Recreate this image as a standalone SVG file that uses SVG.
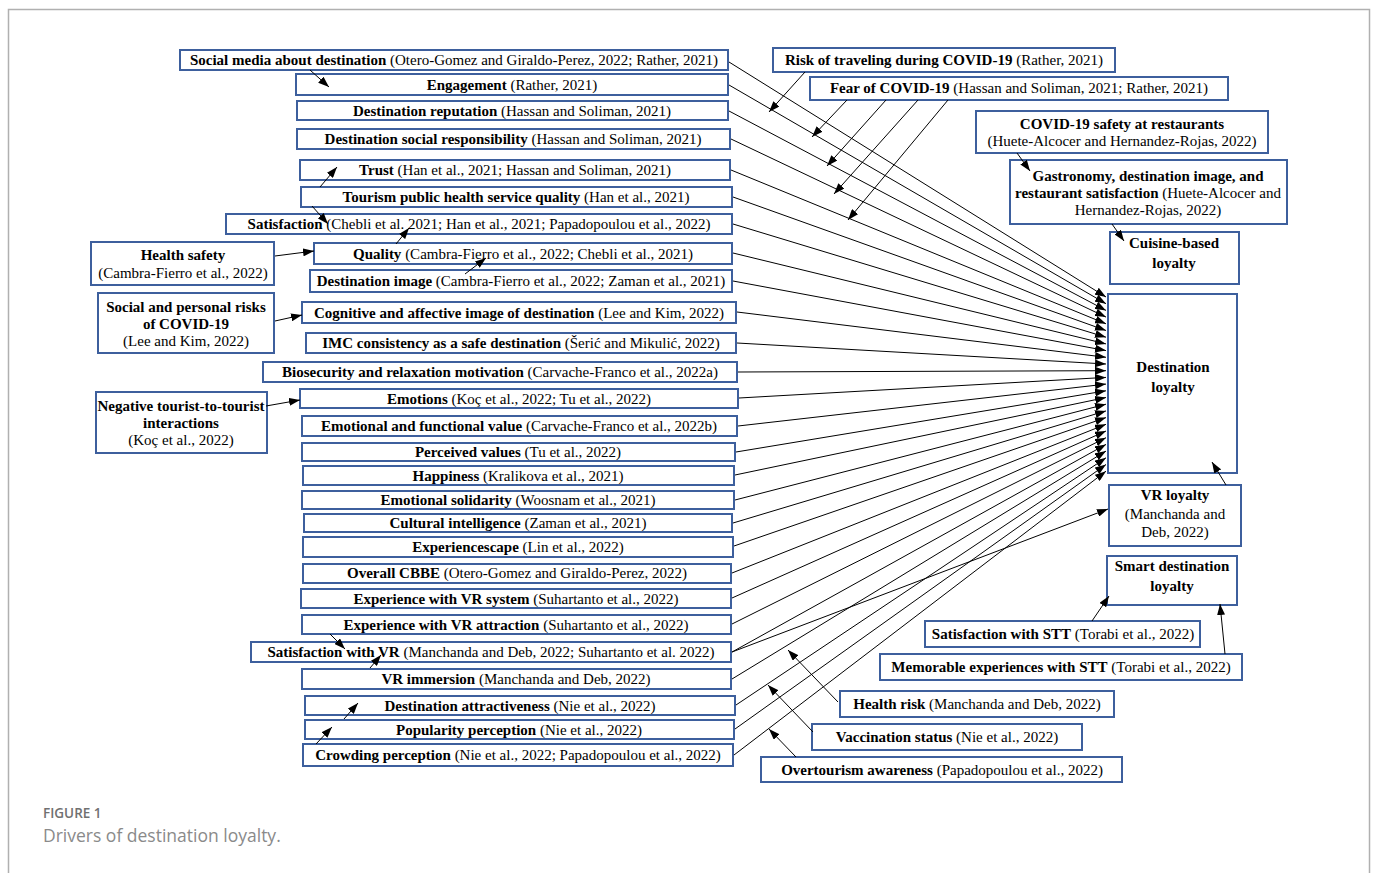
<svg xmlns="http://www.w3.org/2000/svg" width="1375" height="873" viewBox="0 0 1375 873" xml:space="preserve">
<defs>
<style>
.bx{fill:#fff;stroke:#3d5f9d;stroke-width:2}
.t{font-family:"Liberation Serif","Times New Roman",serif;font-size:15px;fill:#000;text-anchor:middle}
.b{font-weight:bold}
.c{stroke:#000;stroke-width:1;fill:none;marker-end:url(#ah)}
.cap1{font-family:"Open Sans",Lato,sans-serif;font-size:13.5px;font-weight:600;fill:#707070}
.cap2{font-family:"Open Sans",Lato,sans-serif;font-size:17.5px;fill:#8a8a8a}
</style>
<marker id="ah" markerUnits="userSpaceOnUse" markerWidth="11" markerHeight="8" refX="11" refY="4" orient="auto"><path d="M0,0 L11,4 L0,8 z" fill="#000"/></marker>
</defs>
<rect x="0" y="0" width="1375" height="873" fill="#fff"/>
<rect x="8.5" y="9.5" width="1361" height="900" fill="none" stroke="#b0b0b0" stroke-width="1.5"/>
<g id="n1"><rect class="bx" x="180" y="50" width="548" height="20"/><text class="t" x="454" y="65"><tspan class="b">Social media about destination</tspan> (Otero-Gomez and Giraldo-Perez, 2022; Rather, 2021)</text></g>
<g id="n2"><rect class="bx" x="296" y="74" width="432" height="21"/><text class="t" x="512" y="90"><tspan class="b">Engagement</tspan>  (Rather, 2021)</text></g>
<g id="n3"><rect class="bx" x="297" y="101" width="431" height="19"/><text class="t" x="512" y="116"><tspan class="b">Destination reputation</tspan>  (Hassan and Soliman, 2021)</text></g>
<g id="n4"><rect class="bx" x="297" y="129" width="433" height="20"/><text class="t" x="513" y="144"><tspan class="b">Destination social responsibility</tspan>   (Hassan and Soliman, 2021)</text></g>
<g id="n5"><rect class="bx" x="300" y="160" width="430" height="20"/><text class="t" x="515" y="175"><tspan class="b">Trust</tspan>  (Han et al., 2021; Hassan and Soliman, 2021)</text></g>
<g id="n6"><rect class="bx" x="301" y="187" width="431" height="20"/><text class="t" x="516" y="202"><tspan class="b">Tourism public health service quality</tspan>  (Han et al., 2021)</text></g>
<g id="n7"><rect class="bx" x="226" y="214" width="506" height="20"/><text class="t" x="479" y="229"><tspan class="b">Satisfaction</tspan> (Chebli et al. 2021; Han et al., 2021; Papadopoulou et al., 2022)</text></g>
<g id="n8"><rect class="bx" x="314" y="243" width="418" height="21"/><text class="t" x="523" y="259"><tspan class="b">Quality</tspan> (Cambra-Fierro et al., 2022; Chebli et al., 2021)</text></g>
<g id="n9"><rect class="bx" x="310" y="270" width="422" height="22"/><text class="t" x="521" y="286"><tspan class="b">Destination image</tspan> (Cambra-Fierro et al., 2022; Zaman et al., 2021)</text></g>
<g id="n10"><rect class="bx" x="302" y="302" width="434" height="21"/><text class="t" x="519" y="318"><tspan class="b">Cognitive and affective image of destination</tspan> (Lee and Kim, 2022)</text></g>
<g id="n11"><rect class="bx" x="306" y="333" width="430" height="20"/><text class="t" x="521" y="348"><tspan class="b">IMC consistency as a safe destination</tspan> (Šerić and Mikulić, 2022)</text></g>
<g id="n12"><rect class="bx" x="263" y="362" width="474" height="20"/><text class="t" x="500" y="377"><tspan class="b">Biosecurity and relaxation motivation</tspan> (Carvache-Franco et al., 2022a)</text></g>
<g id="n13"><rect class="bx" x="300" y="389" width="438" height="19"/><text class="t" x="519" y="404"><tspan class="b">Emotions</tspan> (Koç et al., 2022; Tu et al., 2022)</text></g>
<g id="n14"><rect class="bx" x="302" y="416" width="435" height="20"/><text class="t" x="519" y="431"><tspan class="b">Emotional and functional value</tspan> (Carvache-Franco et al., 2022b)</text></g>
<g id="n15"><rect class="bx" x="302" y="443" width="433" height="18"/><text class="t" x="518" y="457"><tspan class="b">Perceived values</tspan> (Tu et al., 2022)</text></g>
<g id="n16"><rect class="bx" x="303" y="466" width="431" height="19"/><text class="t" x="518" y="481"><tspan class="b">Happiness</tspan> (Kralikova et al., 2021)</text></g>
<g id="n17"><rect class="bx" x="302" y="491" width="432" height="18"/><text class="t" x="518" y="505"><tspan class="b">Emotional solidarity</tspan> (Woosnam et al., 2021)</text></g>
<g id="n18"><rect class="bx" x="304" y="514" width="428" height="18"/><text class="t" x="518" y="528"><tspan class="b">Cultural intelligence</tspan> (Zaman et al., 2021)</text></g>
<g id="n19"><rect class="bx" x="303" y="537" width="430" height="20"/><text class="t" x="518" y="552"><tspan class="b">Experiencescape</tspan> (Lin et al., 2022)</text></g>
<g id="n20"><rect class="bx" x="303" y="564" width="428" height="19"/><text class="t" x="517" y="578"><tspan class="b">Overall CBBE</tspan> (Otero-Gomez and Giraldo-Perez, 2022)</text></g>
<g id="n21"><rect class="bx" x="301" y="589" width="430" height="19"/><text class="t" x="516" y="604"><tspan class="b">Experience with VR system</tspan> (Suhartanto et al., 2022)</text></g>
<g id="n22"><rect class="bx" x="302" y="615" width="429" height="19"/><text class="t" x="516" y="630"><tspan class="b">Experience with VR attraction</tspan> (Suhartanto et al., 2022)</text></g>
<g id="n23"><rect class="bx" x="251" y="642" width="480" height="20"/><text class="t" x="491" y="657"><tspan class="b">Satisfaction with VR</tspan> (Manchanda and Deb, 2022; Suhartanto et al. 2022)</text></g>
<g id="n24"><rect class="bx" x="302" y="669" width="429" height="20"/><text class="t" x="516" y="684"><tspan class="b">VR immersion</tspan> (Manchanda and Deb, 2022)</text></g>
<g id="n25"><rect class="bx" x="305" y="696" width="430" height="19"/><text class="t" x="520" y="711"><tspan class="b">Destination attractiveness</tspan>  (Nie et al., 2022)</text></g>
<g id="n26"><rect class="bx" x="305" y="720" width="429" height="19"/><text class="t" x="519" y="735"><tspan class="b">Popularity perception</tspan> (Nie et al., 2022)</text></g>
<g id="n27"><rect class="bx" x="303" y="744" width="430" height="22"/><text class="t" x="518" y="760"><tspan class="b">Crowding perception</tspan> (Nie et al., 2022; Papadopoulou et al., 2022)</text></g>
<g id="health-safety"><rect class="bx" x="91" y="242" width="183" height="43"/><text class="t" x="183" y="260"><tspan class="b">Health safety</tspan></text><text class="t" x="183" y="278">(Cambra-Fierro et al., 2022)</text></g>
<g id="social-risks"><rect class="bx" x="98" y="293" width="176" height="60"/><text class="t b" x="186" y="312">Social and personal risks</text><text class="t b" x="186" y="329">of COVID-19</text><text class="t" x="186" y="346">(Lee and Kim, 2022)</text></g>
<g id="negative-interactions"><rect class="bx" x="96" y="392" width="171" height="61"/><text class="t b" x="181" y="411">Negative tourist-to-tourist</text><text class="t b" x="181" y="428">interactions</text><text class="t" x="181" y="445">(Koç et al., 2022)</text></g>
<g id="risk-travel"><rect class="bx" x="773" y="48" width="342" height="24"/><text class="t" x="944" y="65"><tspan class="b">Risk of traveling during COVID-19</tspan> (Rather, 2021)</text></g>
<g id="fear"><rect class="bx" x="810" y="77" width="418" height="23"/><text class="t" x="1019" y="93"><tspan class="b">Fear of COVID-19</tspan> (Hassan and Soliman, 2021; Rather, 2021)</text></g>
<g id="covid-safety"><rect class="bx" x="976" y="111" width="292" height="42"/><text class="t b" x="1122" y="129">COVID-19 safety at restaurants</text><text class="t" x="1122" y="146">(Huete-Alcocer and Hernandez-Rojas, 2022)</text></g>
<g id="gastronomy"><rect class="bx" x="1010" y="160" width="277" height="64"/><text class="t b" x="1148" y="181">Gastronomy, destination image, and</text><text class="t" x="1148" y="198"><tspan class="b">restaurant satisfaction</tspan> (Huete-Alcocer and</text><text class="t" x="1148" y="215">Hernandez-Rojas, 2022)</text></g>
<g id="cuisine"><rect class="bx" x="1110" y="232" width="129" height="52"/><text class="t b" x="1174" y="248">Cuisine-based</text><text class="t b" x="1174" y="268">loyalty</text></g>
<g id="destination-loyalty"><rect class="bx" x="1108" y="294" width="129" height="179"/><text class="t b" x="1173" y="372">Destination</text><text class="t b" x="1173" y="392">loyalty</text></g>
<g id="vr-loyalty"><rect class="bx" x="1109" y="485" width="132" height="61"/><text class="t b" x="1175" y="500">VR loyalty</text><text class="t" x="1175" y="519">(Manchanda and</text><text class="t" x="1175" y="537">Deb, 2022)</text></g>
<g id="smart-loyalty"><rect class="bx" x="1107" y="556" width="130" height="49"/><text class="t b" x="1172" y="571">Smart destination</text><text class="t b" x="1172" y="591">loyalty</text></g>
<g id="sat-stt"><rect class="bx" x="925" y="621" width="275" height="26"/><text class="t" x="1063" y="639"><tspan class="b">Satisfaction with STT</tspan> (Torabi et al., 2022)</text></g>
<g id="mem-stt"><rect class="bx" x="880" y="654" width="362" height="26"/><text class="t" x="1061" y="672"><tspan class="b">Memorable experiences with STT</tspan> (Torabi et al., 2022)</text></g>
<g id="health-risk"><rect class="bx" x="840" y="691" width="274" height="26"/><text class="t" x="977" y="709"><tspan class="b">Health risk</tspan> (Manchanda and Deb, 2022)</text></g>
<g id="vaccination"><rect class="bx" x="812" y="724" width="270" height="26"/><text class="t" x="947" y="742"><tspan class="b">Vaccination status</tspan> (Nie et al., 2022)</text></g>
<g id="overtourism"><rect class="bx" x="761" y="757" width="361" height="25"/><text class="t" x="942" y="775"><tspan class="b">Overtourism awareness</tspan> (Papadopoulou et al., 2022)</text></g>
<g id="connectors">
<line class="c" x1="729" y1="62" x2="1106" y2="297"/>
<line class="c" x1="729" y1="85" x2="1106" y2="303.7"/>
<line class="c" x1="729" y1="111" x2="1106" y2="310.4"/>
<line class="c" x1="731" y1="139" x2="1106" y2="317.1"/>
<line class="c" x1="731" y1="170" x2="1106" y2="323.8"/>
<line class="c" x1="733" y1="197" x2="1106" y2="330.5"/>
<line class="c" x1="733" y1="224" x2="1106" y2="337.2"/>
<line class="c" x1="733" y1="253" x2="1106" y2="343.9"/>
<line class="c" x1="733" y1="281" x2="1106" y2="350.6"/>
<line class="c" x1="737" y1="312" x2="1106" y2="357.3"/>
<line class="c" x1="737" y1="343" x2="1106" y2="364"/>
<line class="c" x1="738" y1="372" x2="1106" y2="370.7"/>
<line class="c" x1="739" y1="398" x2="1106" y2="377.4"/>
<line class="c" x1="738" y1="426" x2="1106" y2="384.1"/>
<line class="c" x1="736" y1="452" x2="1106" y2="390.8"/>
<line class="c" x1="735" y1="475" x2="1106" y2="397.5"/>
<line class="c" x1="735" y1="500" x2="1106" y2="404.2"/>
<line class="c" x1="733" y1="523" x2="1106" y2="410.9"/>
<line class="c" x1="734" y1="546" x2="1106" y2="417.6"/>
<line class="c" x1="732" y1="573" x2="1106" y2="424.3"/>
<line class="c" x1="732" y1="598" x2="1106" y2="431"/>
<line class="c" x1="732" y1="624" x2="1106" y2="437.7"/>
<line class="c" x1="732" y1="652" x2="1106" y2="444.4"/>
<line class="c" x1="732" y1="679" x2="1106" y2="451.1"/>
<line class="c" x1="736" y1="705" x2="1106" y2="457.8"/>
<line class="c" x1="735" y1="729" x2="1106" y2="464.5"/>
<line class="c" x1="734" y1="755" x2="1106" y2="471.2"/>
<line class="c" x1="732" y1="652" x2="1108" y2="509"/>
<line class="c" x1="805" y1="72" x2="769" y2="112"/>
<line class="c" x1="847" y1="100" x2="812" y2="137"/>
<line class="c" x1="886" y1="100" x2="827" y2="166"/>
<line class="c" x1="918" y1="100" x2="834" y2="194"/>
<line class="c" x1="948" y1="100" x2="848" y2="220"/>
<line class="c" x1="1017" y1="153" x2="1030" y2="171"/>
<line class="c" x1="1112" y1="224" x2="1124" y2="241"/>
<line class="c" x1="1226" y1="485" x2="1212" y2="462"/>
<line class="c" x1="1092" y1="621" x2="1109" y2="596"/>
<line class="c" x1="1225" y1="654" x2="1220" y2="604"/>
<line class="c" x1="838" y1="702" x2="788" y2="650"/>
<line class="c" x1="813" y1="732" x2="768" y2="685"/>
<line class="c" x1="796" y1="757" x2="769" y2="729"/>
<line class="c" x1="310" y1="70" x2="329" y2="87"/>
<line class="c" x1="320" y1="187" x2="337" y2="167"/>
<line class="c" x1="312" y1="206" x2="328" y2="224"/>
<line class="c" x1="396" y1="244" x2="409" y2="228"/>
<line class="c" x1="465" y1="274" x2="486" y2="258"/>
<line class="c" x1="275" y1="256" x2="314" y2="251"/>
<line class="c" x1="275" y1="321" x2="302" y2="315"/>
<line class="c" x1="266" y1="406" x2="300" y2="400"/>
<line class="c" x1="330" y1="634" x2="345" y2="649"/>
<line class="c" x1="370" y1="668" x2="381" y2="655"/>
<line class="c" x1="344" y1="719" x2="358" y2="703"/>
<line class="c" x1="316" y1="744" x2="332" y2="727"/>
</g>
<g id="caption"><text class="cap1" x="43" y="818">FIGURE 1</text><text class="cap2" x="43" y="842">Drivers of destination loyalty.</text></g>
</svg>
